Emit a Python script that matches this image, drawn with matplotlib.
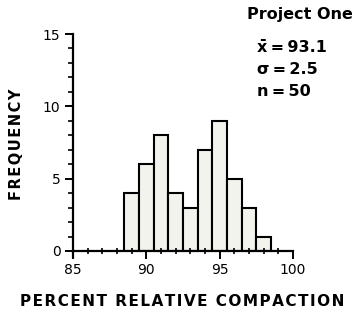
import numpy as np
import matplotlib.pyplot as plt
from matplotlib.ticker import MultipleLocator

# Dados do histograma
bin_edges = [88.5, 89.5, 90.5, 91.5, 92.5, 93.5, 94.5, 95.5, 96.5, 97.5, 98.5]
freq = [4, 6, 8, 4, 3, 7, 9, 5, 3, 1]
x_ticks = [85, 90, 95, 100]
y_ticks = [0, 5, 10, 15]
stats = ['x\u0304\u2009=\u200993.1', '\u03c3\u2009=\u20092.5', 'n\u2009=\u200950']


def espacado(txt, sep='\u200a'):
    # espacamento entre letras, como no letreiro do original
    return sep.join(txt)


W, H = 364, 323
fig = plt.figure(figsize=(W/100, H/100), dpi=100)
ax = fig.add_axes([73/W, 1 - 251/H, (293 - 73)/W, (251 - 34)/H])

edges = np.array(bin_edges)
ax.bar(edges[:-1], freq, width=np.diff(edges), align='edge',
       facecolor='#f3f3ee', edgecolor='black', linewidth=1.5)

ax.set_xlim(85, 100)
ax.set_ylim(0, 15)
ax.set_xticks(x_ticks)
ax.set_yticks(y_ticks)
ax.xaxis.set_minor_locator(MultipleLocator(1))
ax.yaxis.set_minor_locator(MultipleLocator(1))

for s in ['top', 'right']:
    ax.spines[s].set_visible(False)
ax.spines['left'].set_linewidth(1.6)
ax.spines['bottom'].set_linewidth(1.6)
ax.spines['left'].set_bounds(-0.4, 15)

ax.tick_params(which='major', direction='out', length=6, width=1.4,
               labelsize=10, pad=3)
ax.tick_params(axis='x', which='minor', direction='inout', length=5, width=1.2)
ax.tick_params(axis='y', which='minor', direction='out', length=3.5, width=1.2)

fig.text(17/W, 1 - 144/H, espacado('FREQUENCY'), rotation=90,
         ha='center', va='center', fontsize=10.5, fontweight='bold')
fig.text(182/W, 1 - 302/H, espacado('PERCENT RELATIVE COMPACTION'), ha='center',
         va='center', fontsize=11, fontweight='bold')

fig.text(300/W, 1 - 15/H, 'Project One', ha='center', va='center',
         fontsize=11.5, fontweight='bold')
for i, s in enumerate(stats):
    fig.text(257/W, 1 - (47 + 22.5*i)/H, s, ha='left', va='center',
             fontsize=11.5, fontweight='bold')

fig.savefig('out.png', dpi=100)
